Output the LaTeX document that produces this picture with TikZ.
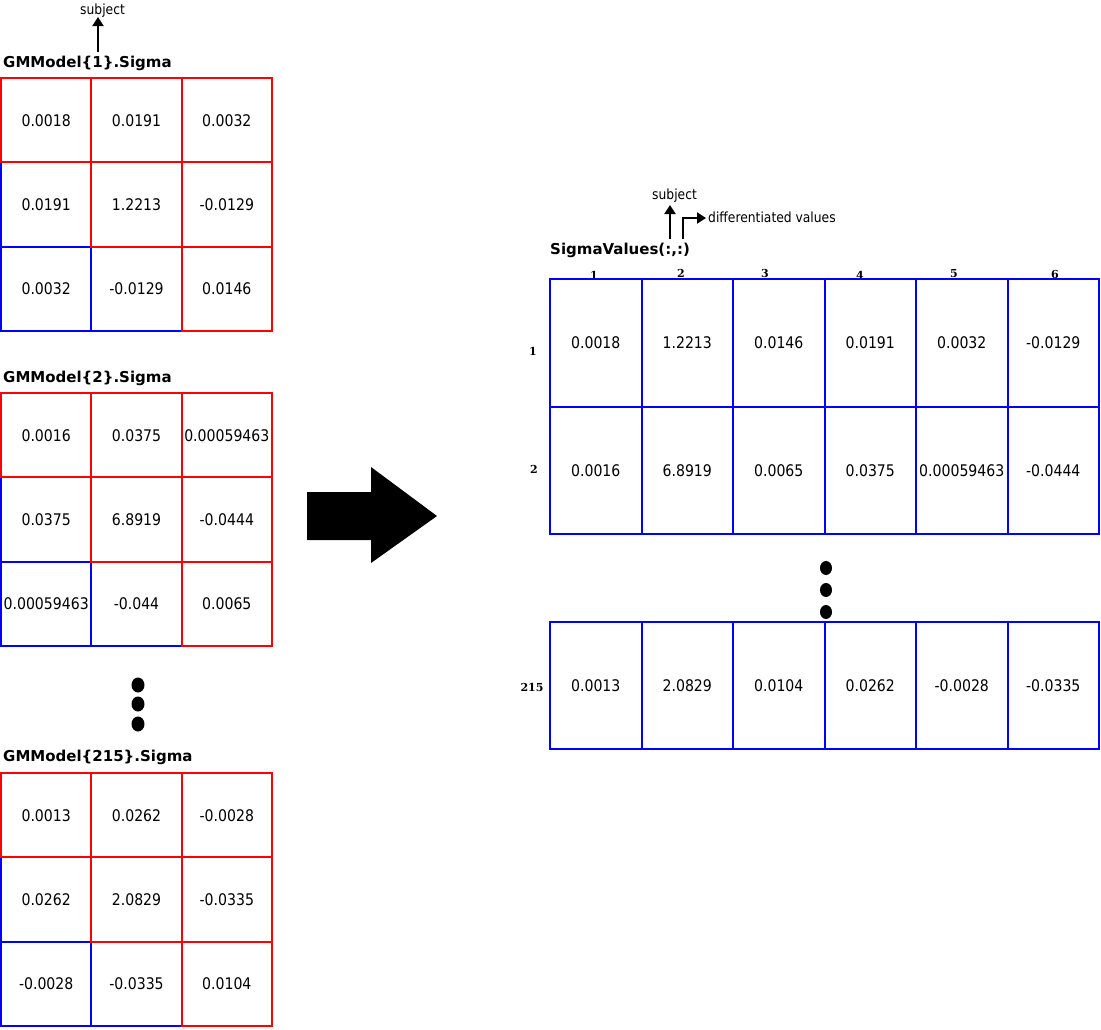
\documentclass[tikz,border=0pt]{standalone}
\usepackage{fontspec}
\usetikzlibrary{arrows.meta}
\newfontfamily\tahfam{DejaVu Sans}[FakeStretch=0.88]
\newfontfamily\ttlfam{DejaVu Sans}
\newfontfamily\lblfam{DejaVu Serif}
\newcommand\myNum{\tahfam\fontsize{16}{19}\selectfont}
\newcommand\mySmall{\tahfam\fontsize{14}{17}\selectfont}
\newcommand\myTitle{\ttlfam\bfseries\fontsize{15}{18}\selectfont}
\newcommand\myLbl{\lblfam\bfseries\fontsize{11}{13}\selectfont}
\tikzset{
  cellL/.style={draw=#1, line width=2pt, minimum width=90.33pt, minimum height=84.33pt, inner sep=0pt, font=\myNum, text=black},
  cellRa/.style={draw=blue, line width=2pt, minimum width=91.5pt, minimum height=128pt, inner sep=0pt, font=\myNum, text=black},
  cellRb/.style={draw=blue, line width=2pt, minimum width=91.5pt, minimum height=127pt, inner sep=0pt, font=\myNum, text=black},
  ttl/.style={anchor=base west, inner sep=0pt, font=\myTitle},
  sml/.style={anchor=base west, inner sep=0pt, font=\mySmall},
  lbl/.style={inner sep=0pt, font=\myLbl},
  ptr/.style={line width=2pt, -{Triangle[width=11pt,length=9pt]}},
  dotmark/.style={fill=black},
}
\begin{document}
\begin{tikzpicture}[x=1pt,y=-1pt]
\useasboundingbox (0,0) rectangle (1101,1029);

% ---------- Table 1 ----------
\node[ttl] (title1) at (3,67) {GMModel\{1\}.Sigma};
\node[sml] (subj1) at (80,14) {subject};
\coordinate (s1start) at (98,52);
\coordinate (s1end) at (98,17);
\draw[ptr] (s1start) -- (s1end);

\node[cellL=blue] (t1r2c1) at (46.2,204.5) {0.0191};
\node[cellL=blue] (t1r3c1) at (46.2,288.8) {0.0032};
\node[cellL=blue] (t1r3c2) at (136.5,288.8) {-0.0129};
\node[cellL=red] (t1r1c1) at (46.2,120.2) {0.0018};
\node[cellL=red] (t1r1c2) at (136.5,120.2) {0.0191};
\node[cellL=red] (t1r1c3) at (226.8,120.2) {0.0032};
\node[cellL=red] (t1r2c2) at (136.5,204.5) {1.2213};
\node[cellL=red] (t1r2c3) at (226.8,204.5) {-0.0129};
\node[cellL=red] (t1r3c3) at (226.8,288.8) {0.0146};

% ---------- Table 2 ----------
\node[ttl] (title2) at (3,382) {GMModel\{2\}.Sigma};
\node[cellL=blue] (t2r2c1) at (46.2,519.5) {0.0375};
\node[cellL=blue] (t2r3c1) at (46.2,603.8) {0.00059463};
\node[cellL=blue] (t2r3c2) at (136.5,603.8) {-0.044};
\node[cellL=red] (t2r1c1) at (46.2,435.2) {0.0016};
\node[cellL=red] (t2r1c2) at (136.5,435.2) {0.0375};
\node[cellL=red] (t2r1c3) at (226.8,435.2) {0.00059463};
\node[cellL=red] (t2r2c2) at (136.5,519.5) {6.8919};
\node[cellL=red] (t2r2c3) at (226.8,519.5) {-0.0444};
\node[cellL=red] (t2r3c3) at (226.8,603.8) {0.0065};

% dots left
\fill[dotmark] (138,685) ellipse [x radius=6.5pt, y radius=7.5pt];
\fill[dotmark] (138,704) ellipse [x radius=6.5pt, y radius=7.5pt];
\fill[dotmark] (138,724) ellipse [x radius=6.5pt, y radius=7.5pt];

% ---------- Table 3 ----------
\node[ttl] (title3) at (3,761.5) {GMModel\{215\}.Sigma};
\node[cellL=blue] (t3r2c1) at (46.2,899.5) {0.0262};
\node[cellL=blue] (t3r3c1) at (46.2,983.8) {-0.0028};
\node[cellL=blue] (t3r3c2) at (136.5,983.8) {-0.0335};
\node[cellL=red] (t3r1c1) at (46.2,815.2) {0.0013};
\node[cellL=red] (t3r1c2) at (136.5,815.2) {0.0262};
\node[cellL=red] (t3r1c3) at (226.8,815.2) {-0.0028};
\node[cellL=red] (t3r2c2) at (136.5,899.5) {2.0829};
\node[cellL=red] (t3r2c3) at (226.8,899.5) {-0.0335};
\node[cellL=red] (t3r3c3) at (226.8,983.8) {0.0104};

% ---------- big arrow ----------
\fill[black] (307,492) -- (371,492) -- (371,467) -- (437,516) -- (371,563) -- (371,540) -- (307,540) -- cycle;

% ---------- Right table ----------
\node[ttl] (titleR) at (550,254) {SigmaValues(:,:)};
\node[sml] (subjR) at (652,199) {subject};
\node[sml] (diffR) at (708,222.5) {differentiated values};
\coordinate (sRstart) at (670,239);
\coordinate (sRend) at (670,205);
\draw[ptr] (sRstart) -- (sRend);
\coordinate (dRstart) at (683,239);
\coordinate (dRend) at (706,218);
\draw[ptr] (dRstart) |- (dRend);

\node[lbl] (ch1) at (594,275) {1};
\node[lbl] (ch2) at (681,273) {2};
\node[lbl] (ch3) at (765,273) {3};
\node[lbl] (ch4) at (860,275) {4};
\node[lbl] (ch5) at (954,274) {5};
\node[lbl] (ch6) at (1055,274) {6};
\node[lbl] (rh1) at (533,351) {1};
\node[lbl] (rh2) at (534,469) {2};
\node[lbl] (rh3) at (532,687) {215};

\node[cellRa] (r1c1) at (595.75,343) {0.0018};
\node[cellRa] (r1c2) at (687.25,343) {1.2213};
\node[cellRa] (r1c3) at (778.75,343) {0.0146};
\node[cellRa] (r1c4) at (870.25,343) {0.0191};
\node[cellRa] (r1c5) at (961.75,343) {0.0032};
\node[cellRa] (r1c6) at (1053.25,343) {-0.0129};

\node[cellRb] (r2c1) at (595.75,470.5) {0.0016};
\node[cellRb] (r2c2) at (687.25,470.5) {6.8919};
\node[cellRb] (r2c3) at (778.75,470.5) {0.0065};
\node[cellRb] (r2c4) at (870.25,470.5) {0.0375};
\node[cellRb] (r2c5) at (961.75,470.5) {0.00059463};
\node[cellRb] (r2c6) at (1053.25,470.5) {-0.0444};

\fill[dotmark] (826,568) ellipse [x radius=6pt, y radius=7pt];
\fill[dotmark] (826,590) ellipse [x radius=6pt, y radius=7pt];
\fill[dotmark] (826,612) ellipse [x radius=6pt, y radius=7pt];

\node[cellRb] (r3c1) at (595.75,685.5) {0.0013};
\node[cellRb] (r3c2) at (687.25,685.5) {2.0829};
\node[cellRb] (r3c3) at (778.75,685.5) {0.0104};
\node[cellRb] (r3c4) at (870.25,685.5) {0.0262};
\node[cellRb] (r3c5) at (961.75,685.5) {-0.0028};
\node[cellRb] (r3c6) at (1053.25,685.5) {-0.0335};
\end{tikzpicture}
\end{document}
